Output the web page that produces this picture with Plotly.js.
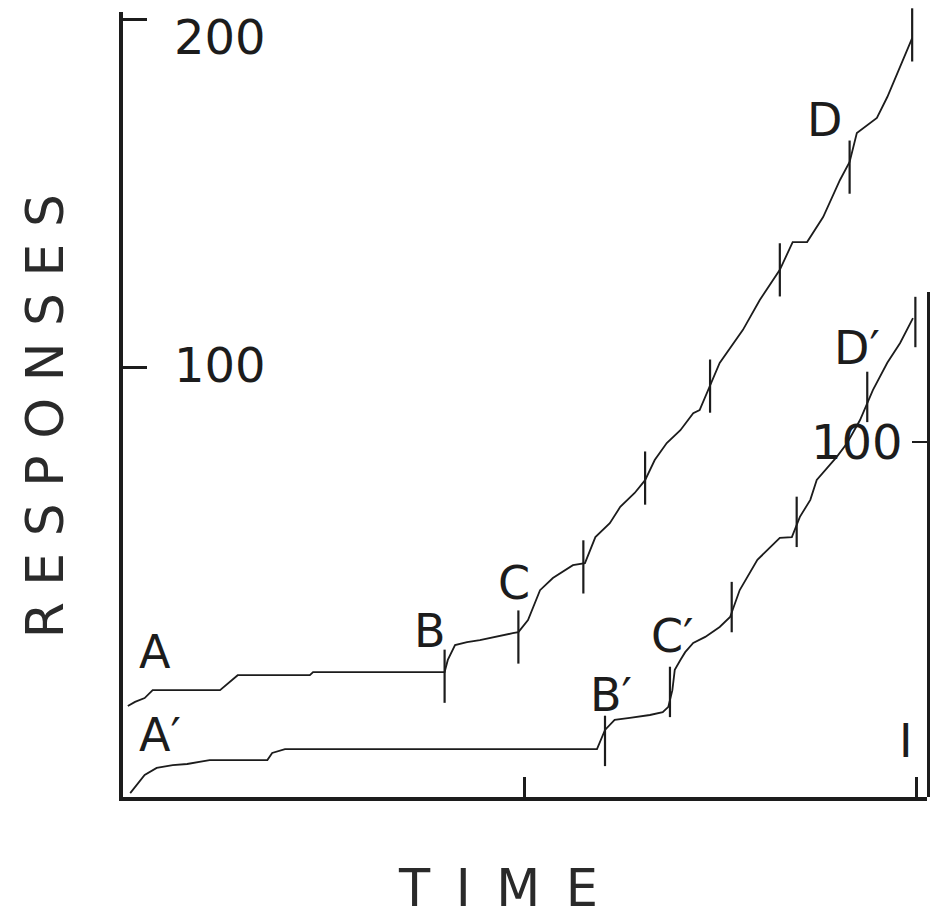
<!DOCTYPE html>
<html>
<head>
<meta charset="utf-8">
<script src="https://cdn.plot.ly/plotly-3.0.1.min.js"></script>
<style>html,body{margin:0;padding:0;background:#fff;}#chart{width:935px;height:919px;}</style>
</head>
<body>
<div id="chart"></div>
<script>
// Upper cumulative record (A–D), left scale
var timeTop = [0.6,1.5,2.7,3.7,4.6,12.1,14.3,23.3,23.7,40.1,40.5,41.4,42.9,44.5,48.6,49.3,50.5,52.0,53.6,56.1,57.6,58.9,60.7,62.0,63.8,65.1,66.3,67.8,69.5,71.1,71.9,73.2,74.4,77.3,79.4,81.9,83.5,85.3,87.3,89.4,90.6,91.5,94.0,95.3,96.9,98.4];
var respTop = [2.3,3.5,4.6,6.9,6.9,6.9,11.2,11.2,12.1,12.1,15.6,19.9,20.7,21.3,23.3,23.6,27.1,35.7,39.2,42.9,43.5,51.0,55.0,59.7,63.7,67.4,73.2,78.1,81.8,86.7,87.6,94.8,101.2,110.7,119.3,128.0,136.0,136.0,143.2,153.9,159.1,167.4,171.8,177.8,186.5,194.8];
// Lower cumulative record (A'–D'), right scale
var timeBottom = [0.9,2.7,4.2,6.2,8.0,10.8,18.0,18.6,20.2,59.1,60.1,61.3,63.2,65.7,67.3,68.0,68.5,68.8,69.5,70.1,71.1,72.6,74.4,75.7,76.9,79.1,81.9,83.4,84.4,85.7,86.5,89.0,90.3,91.9,93.5,95.3,96.9,98.5];
var respBottom = [1.1,6.2,8.2,9.0,9.3,10.4,10.4,12.4,13.5,13.5,18.9,21.7,22.3,23.1,23.9,25.4,30.1,35.8,38.6,40.8,43.4,45.1,47.9,50.7,58.3,66.8,73.0,73.2,78.9,83.7,89.3,95.8,99.7,106.2,114.6,122.3,127.9,134.9];
// Event pips
var markTimeTop = [40.1,49.3,57.4,65.1,73.2,81.9,90.6,98.4];
var markRespTop = [10.9,22.2,42.4,68.0,94.5,128.0,157.6,195.7];
var markTimeBottom = [60.1,68.2,75.9,84.0,92.8,98.8];
var markRespBottom = [15.8,29.6,53.5,77.5,112.7,133.8];
// Letter labels (positioned on left scale)
var labelText = ['A','A\u2032','B','C','B\u2032','C\u2032','D','D\u2032','I'];
var labelTime = [4.0,4.6,38.3,48.8,60.8,68.5,87.5,91.5,97.6];
var labelResp = [17.9,-6.1,23.9,37.8,5.5,22.5,171.2,105.5,-7.8];
// Axis ticks
var leftTicks = [100,200];
var leftTickText = ['100','200'];
var leftTickLabelResp = [100.6,195.1];
var rightTicks = [100];
var rightTickText = ['100'];
var timeTicks = [50,98.9];

var ink = '#1c1c1c';
var FONT = 'DejaVu Sans, Arial, sans-serif';

var traces = [
  {x: timeTop, y: respTop, xaxis:'x', yaxis:'y', mode:'lines', line:{color:ink, width:1.8}, hoverinfo:'skip', cliponaxis:false},
  {x: timeBottom, y: respBottom, xaxis:'x', yaxis:'y2', mode:'lines', line:{color:ink, width:1.8}, hoverinfo:'skip', cliponaxis:false},
  {x: markTimeTop, y: markRespTop, xaxis:'x', yaxis:'y', mode:'markers', marker:{symbol:'line-ns', size:38, line:{width:2.2, color:ink}}, hoverinfo:'skip', cliponaxis:false},
  {x: markTimeBottom, y: markRespBottom, xaxis:'x', yaxis:'y2', mode:'markers', marker:{symbol:'line-ns', size:36, line:{width:2.2, color:ink}}, hoverinfo:'skip', cliponaxis:false}
];

var annotations = labelText.map(function(t,i){
  return {text:t, x:labelTime[i], y:labelResp[i], xref:'x', yref:'y', showarrow:false,
          xanchor:'center', yanchor:'middle', font:{family:FONT, size:46, color:ink}};
});
leftTickText.forEach(function(t,i){
  annotations.push({text:t, x:0.0609, y:leftTickLabelResp[i], xref:'paper', yref:'y', showarrow:false,
    xanchor:'left', yanchor:'middle', font:{family:FONT, size:48, color:ink}});
});
annotations.push({text:'T\u2002I\u2002M\u2002E', x:0.4664, y:-0.117, xref:'paper', yref:'paper', showarrow:false,
  xanchor:'center', yanchor:'middle', font:{family:FONT, size:51, color:'#2a2a2a'}});
annotations.push({text:'R E S P O N S E S', x:-0.097, y:0.485, xref:'paper', yref:'paper', showarrow:false, textangle:-90,
  xanchor:'center', yanchor:'middle', font:{family:FONT, size:52, color:'#2a2a2a'}});

var layout = {
  width:935, height:919,
  margin:{l:123, r:8, t:12, b:122},
  paper_bgcolor:'#fff', plot_bgcolor:'rgba(0,0,0,0)',
  showlegend:false,
  font:{family:FONT, color:ink},
  xaxis:{range:[0,100.25], showline:true, linewidth:4, linecolor:ink, ticks:'inside', tickvals:timeTicks,
         ticklen:20, tickwidth:3, tickcolor:ink, showticklabels:false, showgrid:false, zeroline:false, fixedrange:true},
  yaxis:{range:[-23.9,202.3], showline:true, linewidth:4, linecolor:ink, ticks:'inside', tickvals:leftTicks, ticktext:leftTickText,
         ticklen:24, tickwidth:3, tickcolor:ink, showticklabels:false,
         showgrid:false, zeroline:false, fixedrange:true},
  yaxis2:{domain:[0,0.6433], anchor:'x', side:'right', range:[0,142.25], showline:true, linewidth:3, linecolor:ink,
          ticks:'inside', tickvals:rightTicks, ticktext:rightTickText, ticklen:15, tickwidth:2.5, tickcolor:ink,
          ticklabelposition:'inside', ticklabelstandoff:16, ticklabeloverflow:'allow',
          tickfont:{family:FONT, size:48, color:ink}, showgrid:false, zeroline:false, fixedrange:true},
  annotations:annotations
};

Plotly.newPlot('chart', traces, layout, {displayModeBar:false, staticPlot:true});
</script>
</body>
</html>
